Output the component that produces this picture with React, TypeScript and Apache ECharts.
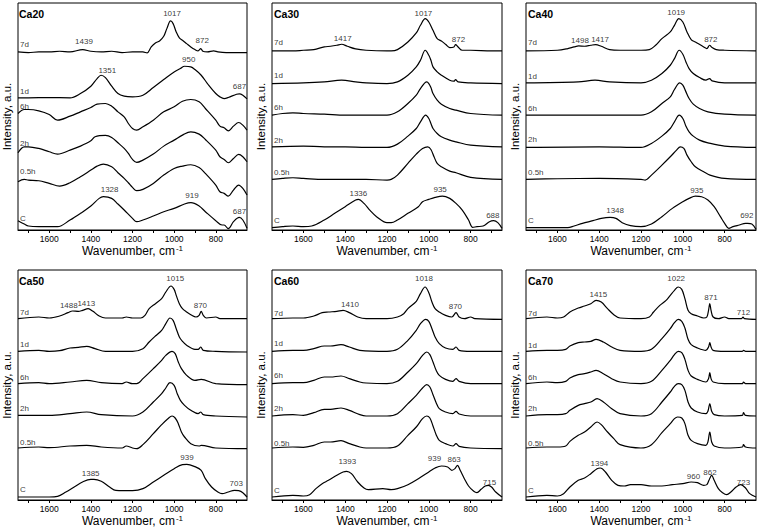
import React, { useEffect, useRef } from 'react';
import * as echarts from 'echarts';

type Pt = [number, number];
type Lab = [number, number, string];

// ---------- Ca20 ----------
const CA20_7D: Pt[] = [[1750,535],[1700,533],[1650,535],[1600,535],[1550,537],[1500,535],[1439,542],[1400,537],[1350,535],[1300,537],[1250,533],[1200,535],[1150,535],[1130,532],[1110,550],[1090,562],[1070,568],[1050,582],[1035,605],[1017,628],[1005,620],[990,595],[975,577],[960,570],[940,560],[920,550],[900,542],[885,538],[872,545],[862,537],[840,535],[810,538],[790,535],[750,533],[700,533],[650,533]];
const CA20_1D: Pt[] = [[1750,397],[1700,397],[1600,398],[1500,397],[1450,410],[1400,432],[1370,455],[1351,465],[1330,458],[1300,432],[1270,410],[1240,402],[1200,400],[1150,405],[1100,428],[1050,452],[1000,475],[970,485],[950,492],[920,490],[900,482],[870,465],[840,440],[800,410],[780,400],[760,395],[740,398],[700,408],[687,409],[670,405],[650,394]];
const CA20_6H: Pt[] = [[1750,350],[1720,362],[1700,362],[1650,358],[1600,347],[1560,330],[1500,342],[1450,355],[1400,368],[1370,378],[1330,380],[1300,372],[1270,355],[1240,340],[1220,320],[1200,305],[1180,300],[1150,310],[1100,330],[1050,355],[1000,370],[960,387],[920,392],[880,385],[850,365],[800,330],[780,312],[760,307],[740,298],[715,312],[690,323],[670,315],[650,300]];
const CA20_2H: Pt[] = [[1750,232],[1720,250],[1700,250],[1650,245],[1600,235],[1560,228],[1500,240],[1450,252],[1400,268],[1380,280],[1330,284],[1300,278],[1270,262],[1240,245],[1220,230],[1200,212],[1180,203],[1150,210],[1100,228],[1050,252],[1000,270],[960,285],[920,295],[880,288],[850,272],[800,240],[780,220],[760,212],[740,202],[715,215],[690,227],[670,220],[650,205]];
const CA20_05H: Pt[] = [[1750,145],[1720,152],[1700,150],[1650,148],[1600,140],[1550,132],[1500,142],[1450,160],[1400,180],[1370,192],[1340,198],[1300,190],[1270,172],[1240,155],[1220,142],[1200,128],[1180,118],[1150,122],[1100,140],[1050,165],[1000,185],[960,192],[920,196],[880,188],[850,170],[800,135],[780,115],[760,110],[740,102],[715,120],[690,135],[670,125],[650,105]];
const CA20_C: Pt[] = [[1750,28],[1720,18],[1700,12],[1650,10],[1600,10],[1560,10],[1500,30],[1450,50],[1400,72],[1360,95],[1340,100],[1300,95],[1270,78],[1240,60],[1200,35],[1180,25],[1150,30],[1100,42],[1050,55],[1000,65],[950,78],[919,82],[880,72],[850,55],[800,28],[770,15],[760,15],[740,4],[715,25],[687,38],[670,30],[650,5]];
const CA20_PEAKS: Lab[] = [[1010,650,'1017'],[1433,565,'1439'],[865,568,'872'],[1321,480,'1351'],[930,512,'950'],[686,432,'687'],[1310,122,'1328'],[914,105,'919'],[686,55,'687']];
const CA20_TAG_Y = [558, 415, 372, 260, 175, 35];

// ---------- Ca30 ----------
const CA30_7D: Pt[] = [[1750,538],[1650,538],[1600,540],[1550,542],[1500,550],[1470,552],[1440,555],[1417,558],[1390,552],[1350,544],[1300,540],[1200,538],[1180,538],[1150,542],[1100,565],[1060,592],[1040,615],[1017,635],[1000,625],[980,600],[960,575],[940,568],[920,558],[900,548],[880,550],[872,557],[860,550],[840,540],[800,540],[700,538],[650,538]];
const CA30_1D: Pt[] = [[1750,440],[1600,442],[1500,445],[1417,450],[1350,445],[1300,442],[1200,440],[1150,445],[1100,465],[1060,490],[1040,510],[1017,540],[1000,525],[990,510],[980,490],[960,475],[940,465],[900,450],[880,447],[872,452],[860,445],[800,442],[650,440]];
const CA30_6H: Pt[] = [[1750,345],[1700,350],[1650,352],[1600,350],[1500,348],[1400,345],[1300,345],[1200,345],[1150,355],[1100,380],[1060,405],[1040,425],[1010,445],[1000,440],[990,428],[980,410],[960,390],[940,378],[900,365],[870,360],[800,350],[650,345]];
const CA30_2H: Pt[] = [[1750,250],[1600,252],[1500,250],[1400,250],[1300,248],[1200,248],[1150,258],[1100,282],[1060,305],[1040,325],[1015,345],[1000,335],[990,320],[980,305],[960,290],[940,280],[900,270],[870,265],[800,255],[650,250]];
const CA30_05H: Pt[] = [[1750,152],[1700,155],[1650,157],[1600,155],[1500,152],[1400,152],[1300,152],[1200,150],[1180,152],[1150,165],[1100,200],[1060,228],[1030,245],[1005,250],[990,242],[975,220],[960,200],[940,190],[900,177],[870,172],[800,158],[650,152]];
const CA30_C: Pt[] = [[1750,7],[1700,10],[1650,12],[1600,10],[1560,12],[1500,30],[1450,50],[1400,70],[1350,90],[1336,92],[1310,80],[1280,58],[1250,40],[1200,22],[1180,22],[1150,30],[1100,50],[1050,70],[1030,85],[1000,92],[970,98],[935,102],[900,95],[870,80],[840,60],[810,30],[790,8],[770,10],[740,12],[710,25],[690,28],[670,22],[650,5]];
const CA30_PEAKS: Lab[] = [[1026,650,'1017'],[1412,575,'1417'],[858,572,'872'],[1337,110,'1336'],[946,122,'935'],[694,45,'688']];
const CA30_TAG_Y = [562, 465, 368, 270, 172, 30];

// ---------- Ca40 ----------
const CA40_7D: Pt[] = [[1750,538],[1600,540],[1550,545],[1520,550],[1498,553],[1470,552],[1440,555],[1417,557],[1390,552],[1350,542],[1300,540],[1200,540],[1160,542],[1130,555],[1100,575],[1060,595],[1040,615],[1019,635],[1000,625],[980,595],[960,572],[940,565],[900,550],[885,545],[872,555],[860,548],[840,542],[800,540],[650,538]];
const CA40_1D: Pt[] = [[1750,442],[1500,445],[1420,450],[1350,445],[1200,442],[1150,450],[1100,470],[1060,495],[1040,515],[1017,540],[1000,528],[985,505],[970,485],[950,470],[920,458],[890,450],[872,455],[860,448],[800,442],[650,442]];
const CA40_6H: Pt[] = [[1750,345],[1500,345],[1400,345],[1200,345],[1150,355],[1100,380],[1060,400],[1040,422],[1015,442],[1000,435],[985,415],[970,395],[950,378],[920,365],[880,355],[800,348],[650,345]];
const CA40_2H: Pt[] = [[1750,248],[1400,250],[1200,248],[1150,260],[1100,282],[1060,305],[1040,325],[1017,345],[1000,335],[985,312],[970,295],[950,282],[920,270],[880,262],[800,252],[650,248]];
const CA40_05H: Pt[] = [[1750,152],[1600,154],[1400,155],[1200,152],[1180,150],[1150,165],[1100,195],[1060,220],[1030,240],[1012,250],[995,245],[980,225],[960,205],[940,190],[900,175],[870,165],[800,155],[650,152]];
const CA40_C: Pt[] = [[1750,7],[1550,7],[1520,12],[1480,20],[1430,28],[1390,35],[1348,38],[1320,35],[1290,22],[1250,13],[1200,10],[1150,18],[1100,40],[1050,65],[1000,85],[970,95],[940,102],[910,100],[880,90],[850,70],[820,40],[800,20],[780,5],[760,10],[730,15],[700,20],[690,20],[670,18],[650,2]];
const CA40_PEAKS: Lab[] = [[1032,652,'1019'],[1492,570,'1498'],[1396,572,'1417'],[866,572,'872'],[1324,58,'1348'],[933,120,'935'],[694,45,'692']];
const CA40_TAG_Y = [562, 462, 365, 272, 172, 30];

// ---------- Ca50 ----------
const CA50_7D: Pt[] = [[1750,544],[1650,549],[1600,546],[1550,552],[1510,562],[1488,567],[1460,566],[1440,569],[1413,574],[1390,566],[1360,552],[1330,546],[1250,546],[1230,549],[1200,546],[1160,546],[1140,554],[1120,574],[1090,589],[1060,604],[1040,624],[1015,642],[1000,632],[990,614],[975,589],[960,574],[940,564],[920,556],[895,549],[880,554],[870,566],[860,554],[845,546],[800,549],[780,544],[650,544]];
const CA50_1D: Pt[] = [[1750,446],[1650,449],[1600,446],[1550,448],[1500,456],[1460,458],[1420,461],[1380,454],[1330,446],[1200,446],[1150,454],[1120,474],[1090,492],[1060,509],[1040,529],[1020,546],[1005,539],[990,514],[975,489],[960,476],[940,464],[900,452],[885,452],[872,459],[860,449],[800,446],[650,444]];
const CA50_6H: Pt[] = [[1750,349],[1650,352],[1600,349],[1500,354],[1420,359],[1350,352],[1250,349],[1230,354],[1200,349],[1180,349],[1150,364],[1100,394],[1060,419],[1040,434],[1010,446],[995,439],[980,414],[965,394],[940,374],[900,359],[870,362],[800,349],[650,346]];
const CA50_2H: Pt[] = [[1750,254],[1600,254],[1500,259],[1420,264],[1350,256],[1200,252],[1150,264],[1100,294],[1060,319],[1040,336],[1020,352],[1000,344],[985,319],[970,299],[950,284],[920,269],[885,259],[872,264],[860,256],[800,252],[650,249]];
const CA50_05H: Pt[] = [[1750,156],[1650,159],[1600,157],[1500,162],[1420,164],[1350,159],[1250,156],[1230,162],[1200,156],[1180,154],[1150,166],[1100,199],[1060,226],[1030,244],[1010,252],[995,246],[980,229],[965,204],[950,189],[920,169],[880,162],[870,164],[800,156],[650,154]];
const CA50_C: Pt[] = [[1750,9],[1600,9],[1560,11],[1520,24],[1480,39],[1440,54],[1400,62],[1385,62],[1350,56],[1310,39],[1280,29],[1200,28],[1150,34],[1100,54],[1050,74],[1000,94],[960,106],[939,107],[900,100],[870,89],[850,64],[820,39],[790,24],[770,19],[740,24],[710,29],[690,28],[670,22],[650,9]];
const CA50_PEAKS: Lab[] = [[995,664,'1015'],[1506,584,'1488'],[1422,589,'1413'],[874,584,'870'],[1401,79,'1385'],[938,127,'939'],[702,49,'703']];
const CA50_TAG_Y = [562, 467, 369, 274, 174, 31];

// ---------- Ca60 ----------
const CA60_7D: Pt[] = [[1750,544],[1650,546],[1600,546],[1550,552],[1510,562],[1480,564],[1440,566],[1410,569],[1380,562],[1340,549],[1300,544],[1200,544],[1150,549],[1120,559],[1100,574],[1060,596],[1040,619],[1018,639],[1000,622],[985,594],[970,574],[950,564],[920,554],[890,549],[870,562],[855,549],[830,544],[800,549],[780,544],[650,542]];
const CA60_1D: Pt[] = [[1750,446],[1650,449],[1600,449],[1550,454],[1500,462],[1470,462],[1420,466],[1380,459],[1330,449],[1200,446],[1150,452],[1100,479],[1060,509],[1040,529],[1015,542],[1000,536],[985,514],[970,489],[950,469],[920,456],[885,452],[870,459],[855,449],[800,446],[650,446]];
const CA60_6H: Pt[] = [[1750,349],[1650,352],[1600,352],[1550,359],[1500,369],[1470,369],[1420,372],[1380,364],[1330,354],[1300,351],[1200,349],[1150,356],[1100,384],[1060,409],[1030,434],[1010,444],[995,436],[980,414],[965,389],[950,374],[920,362],[885,356],[870,364],[855,356],[800,349],[650,349]];
const CA60_2H: Pt[] = [[1750,252],[1650,256],[1600,254],[1550,262],[1500,272],[1470,272],[1420,276],[1380,269],[1330,256],[1300,252],[1200,252],[1150,259],[1100,289],[1060,314],[1030,336],[1010,346],[995,339],[980,316],[965,292],[950,274],[920,264],[885,259],[870,266],[855,258],[800,252],[650,252]];
const CA60_05H: Pt[] = [[1750,156],[1650,159],[1600,158],[1550,164],[1500,174],[1470,174],[1420,178],[1380,169],[1330,159],[1300,156],[1200,156],[1150,162],[1100,194],[1060,219],[1030,244],[1010,252],[995,246],[980,222],[965,196],[950,179],[920,169],[885,162],[870,169],[855,161],[800,156],[650,154]];
const CA60_C: Pt[] = [[1750,9],[1650,14],[1600,12],[1570,16],[1540,34],[1510,49],[1480,59],[1440,74],[1410,84],[1393,86],[1370,79],[1340,54],[1310,36],[1290,31],[1220,34],[1180,31],[1150,34],[1100,46],[1050,64],[1000,84],[970,96],[939,102],[910,99],[890,89],[875,94],[863,104],[850,89],[830,64],[810,42],[785,26],[770,22],[750,32],[730,42],[715,44],[700,39],[680,24],[650,9]];
const CA60_PEAKS: Lab[] = [[1023,664,'1018'],[1377,586,'1410'],[873,581,'870'],[1390,116,'1393'],[973,124,'939'],[879,122,'863'],[710,52,'715']];
const CA60_TAG_Y = [559, 469, 374, 274, 169, 29];

// ---------- Ca70 ----------
const CA70_7D: Pt[] = [[1750,544],[1650,549],[1600,546],[1570,549],[1540,564],[1500,576],[1470,582],[1440,589],[1415,599],[1390,594],[1360,574],[1330,556],[1300,546],[1200,544],[1160,549],[1140,564],[1110,584],[1080,599],[1060,614],[1040,629],[1022,639],[1005,632],[990,604],[975,569],[960,559],[930,552],[900,546],[885,549],[877,569],[871,589],[865,569],[855,549],[830,544],[800,549],[780,544],[720,544],[712,549],[705,544],[650,542]];
const CA70_1D: Pt[] = [[1750,446],[1650,449],[1600,449],[1560,452],[1540,462],[1500,472],[1470,474],[1440,476],[1415,482],[1380,474],[1340,459],[1300,449],[1200,446],[1150,452],[1100,484],[1060,514],[1040,532],[1022,542],[1005,536],[990,516],[975,482],[960,466],[930,456],[890,449],[877,459],[871,472],[865,459],[855,449],[800,446],[715,446],[710,449],[700,446],[650,446]];
const CA70_6H: Pt[] = [[1750,349],[1650,354],[1600,352],[1560,356],[1540,366],[1500,376],[1470,379],[1440,384],[1415,389],[1380,379],[1340,364],[1300,354],[1200,349],[1150,356],[1100,389],[1060,419],[1040,436],[1022,446],[1005,442],[990,422],[975,389],[960,372],[930,362],[890,354],[877,364],[871,382],[865,364],[855,354],[800,349],[715,349],[710,354],[700,349],[650,349]];
const CA70_2H: Pt[] = [[1750,252],[1650,256],[1600,256],[1560,259],[1540,269],[1500,284],[1470,289],[1440,294],[1410,304],[1380,294],[1340,274],[1300,259],[1200,252],[1150,259],[1100,294],[1060,324],[1040,341],[1022,349],[1005,346],[990,329],[975,294],[960,276],[930,264],[890,259],[880,266],[871,289],[862,266],[850,256],[800,252],[715,254],[710,262],[700,254],[650,252]];
const CA70_05H: Pt[] = [[1750,156],[1650,159],[1600,159],[1560,162],[1540,176],[1500,194],[1470,204],[1440,219],[1410,234],[1390,226],[1360,204],[1330,184],[1300,166],[1200,156],[1150,166],[1100,202],[1060,229],[1040,244],[1025,249],[1005,246],[990,229],[975,194],[960,179],[930,169],[890,164],[880,174],[871,204],[862,174],[850,162],[800,156],[715,159],[710,166],[700,159],[650,156]];
const CA70_C: Pt[] = [[1750,9],[1650,14],[1600,12],[1570,19],[1540,39],[1500,59],[1470,66],[1440,79],[1410,94],[1394,96],[1370,84],[1340,59],[1310,44],[1280,42],[1250,46],[1200,46],[1150,42],[1100,42],[1050,46],[1000,49],[960,54],[930,52],[900,44],[885,46],[875,59],[862,74],[850,59],[830,34],[810,22],[790,16],[770,24],[745,39],[723,46],[700,36],[680,19],[650,9]];
const CA70_PEAKS: Lab[] = [[1032,664,'1022'],[1404,616,'1415'],[865,609,'871'],[710,564,'712'],[1399,111,'1394'],[949,71,'960'],[870,82,'862'],[710,54,'723']];
const CA70_TAG_Y = [559, 464, 369, 274, 169, 29];

const TAGS = ['7d', '1d', '6h', '2h', '0.5h', 'C'];
const TICK_LABELS = [800, 1000, 1200, 1400, 1600];
const TICKS = [700, 800, 900, 1000, 1100, 1200, 1300, 1400, 1500, 1600, 1700];

const PANELS = [
  { name: 'Ca20', curves: [CA20_7D, CA20_1D, CA20_6H, CA20_2H, CA20_05H, CA20_C], peaks: CA20_PEAKS, tagY: CA20_TAG_Y },
  { name: 'Ca30', curves: [CA30_7D, CA30_1D, CA30_6H, CA30_2H, CA30_05H, CA30_C], peaks: CA30_PEAKS, tagY: CA30_TAG_Y },
  { name: 'Ca40', curves: [CA40_7D, CA40_1D, CA40_6H, CA40_2H, CA40_05H, CA40_C], peaks: CA40_PEAKS, tagY: CA40_TAG_Y },
  { name: 'Ca50', curves: [CA50_7D, CA50_1D, CA50_6H, CA50_2H, CA50_05H, CA50_C], peaks: CA50_PEAKS, tagY: CA50_TAG_Y },
  { name: 'Ca60', curves: [CA60_7D, CA60_1D, CA60_6H, CA60_2H, CA60_05H, CA60_C], peaks: CA60_PEAKS, tagY: CA60_TAG_Y },
  { name: 'Ca70', curves: [CA70_7D, CA70_1D, CA70_6H, CA70_2H, CA70_05H, CA70_C], peaks: CA70_PEAKS, tagY: CA70_TAG_Y },
];

const FONT = '"Liberation Sans", Arial, Helvetica, sans-serif';
const COL_LEFT = [17, 272, 526];
const ROWS = [
  { top: 3, height: 227, ymax: 682 },
  { top: 270, height: 230, ymax: 690 },
];
const PANEL_W = 230;

function buildOption() {
  const grid: any[] = [];
  const xAxis: any[] = [];
  const yAxis: any[] = [];
  const series: any[] = [];
  const title: any[] = [];

  PANELS.forEach((p, i) => {
    const row = ROWS[Math.floor(i / 3)];
    const left = COL_LEFT[i % 3];
    grid.push({
      left, top: row.top, width: PANEL_W, height: row.height,
      show: true, borderColor: '#000', borderWidth: 1, backgroundColor: 'transparent',
      containLabel: false,
    });
    xAxis.push({
      type: 'value', gridIndex: i, inverse: true, min: 650, max: 1750,
      name: 'Wavenumber, cm{sup|-1}', nameLocation: 'middle', nameGap: 14,
      nameTextStyle: {
        fontFamily: FONT, fontSize: 12, color: '#000',
        rich: { sup: { fontSize: 8, verticalAlign: 'top', fontFamily: FONT, color: '#000', padding: [0, 0, 6, 1] } },
      },
      axisLine: { show: true, lineStyle: { color: '#000', width: 1 } },
      axisTick: { show: true, inside: false, length: 3, customValues: TICKS, lineStyle: { color: '#000' } },
      axisLabel: {
        show: true, customValues: TICK_LABELS, fontFamily: FONT, fontSize: 8.5, color: '#000', margin: 4,
        formatter: (v: number) => String(v),
      },
      splitLine: { show: false },
    });
    yAxis.push({
      type: 'value', gridIndex: i, min: 0, max: row.ymax,
      name: 'Intensity, a.u.', nameLocation: 'middle', nameGap: 5,
      nameTextStyle: { fontFamily: FONT, fontSize: 11.5, color: '#000' },
      axisLine: { show: false }, axisTick: { show: false }, axisLabel: { show: false },
      splitLine: { show: false },
    });
    title.push({
      text: p.name, left: left + 2, top: row.top + 5, padding: 0,
      textStyle: { fontFamily: FONT, fontSize: 10.5, fontWeight: 'bold', color: '#000' },
    });
    p.curves.forEach((c, k) => {
      series.push({
        type: 'line', name: `${p.name} ${TAGS[k]}`, xAxisIndex: i, yAxisIndex: i,
        data: c, smooth: 0.35, symbol: 'none', silent: true,
        lineStyle: { color: '#000', width: 1.2 },
      });
    });
    series.push({
      type: 'scatter', xAxisIndex: i, yAxisIndex: i, symbolSize: 0, silent: true,
      data: p.peaks,
      label: {
        show: true, position: 'inside', formatter: (d: any) => d.value[2],
        fontFamily: FONT, fontSize: 8, color: '#000',
      },
    });
    series.push({
      type: 'scatter', xAxisIndex: i, yAxisIndex: i, symbolSize: 0, silent: true,
      data: TAGS.map((t, k) => [1750, p.tagY[k], t]),
      label: {
        show: true, position: 'right', distance: 2, formatter: (d: any) => d.value[2],
        fontFamily: FONT, fontSize: 8, color: '#000',
      },
    });
  });

  return {
    animation: false,
    backgroundColor: '#fff',
    title, grid, xAxis, yAxis, series,
  };
}

export default function App() {
  const ref = useRef<HTMLDivElement>(null);
  useEffect(() => {
    document.body.style.margin = '0';
    if (!ref.current) return;
    const chart = echarts.init(ref.current, undefined, { renderer: 'svg' });
    chart.setOption(buildOption());
    return () => chart.dispose();
  }, []);
  return <div ref={ref} style={{ width: 758, height: 529 }} />;
}
